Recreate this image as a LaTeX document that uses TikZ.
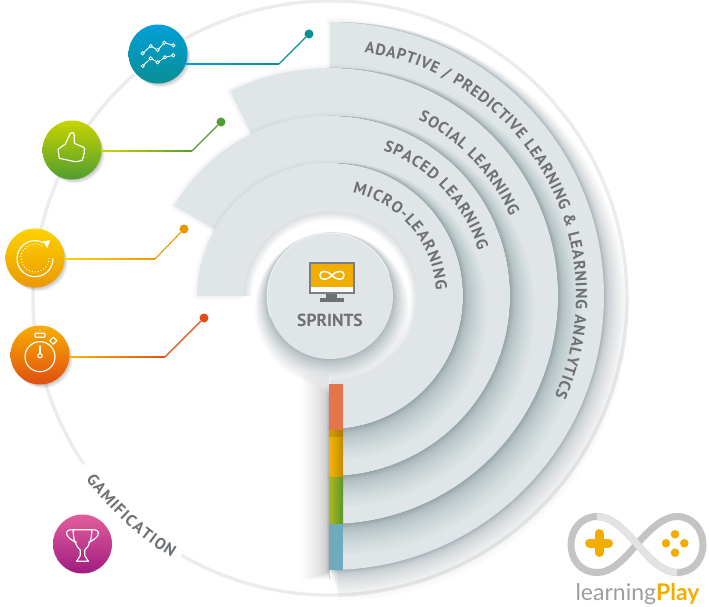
\documentclass[tikz,border=0pt]{standalone}
\usepackage{fontspec}
\setmainfont{PT Sans}
\newfontfamily\logofont{Lato}
\usetikzlibrary{calc,decorations.text}
\definecolor{ringc}{HTML}{E0E5E7}
\definecolor{shc}{HTML}{2E4E58}
\definecolor{txt}{HTML}{6D7174}
\definecolor{arcc}{HTML}{ECECEC}
\definecolor{yel}{HTML}{F2AE00}
\definecolor{a1}{HTML}{009FD8}\definecolor{a2}{HTML}{0A8F95}
\definecolor{b1}{HTML}{C8D400}\definecolor{b2}{HTML}{4F9E30}
\definecolor{c1}{HTML}{FFD200}\definecolor{c2}{HTML}{EA9800}
\definecolor{d1}{HTML}{F9AE00}\definecolor{d2}{HTML}{E04E10}
\definecolor{e1}{HTML}{E25F9C}\definecolor{e2}{HTML}{A01B80}
\definecolor{baro}{HTML}{E4764A}
\definecolor{bargl}{HTML}{B0B81A}
\definecolor{bargr}{HTML}{5A962C}
\definecolor{barb}{HTML}{6EACBD}
\tikzset{
  iconc/.style={circle,minimum size=59pt,inner sep=0pt},
  dotc/.style={circle,minimum size=9pt,inner sep=0pt},
  glyph/.style={draw=white,line width=1.15pt,line join=round,line cap=round},
  ringfill/.style={fill=ringc},
  curved/.style={decorate,decoration={text along path,text align={fit to path},text={#1}}},
  ringlabel/.style={curved={|\bfseries\fontsize{16}{16}\selectfont\color{txt}|#1}},
}
\newcommand\ringpath[3]{($(C)+(#1:#2pt)$) arc[start angle=#1,end angle=-90,radius=#2pt] -- ($(C)+(-90:#3pt)$) arc[start angle=-90,end angle=#1,radius=#3pt] -- cycle}
\newcommand\dropshadow[2]{%
  \begin{scope}
  \clip (329,0) rectangle (709,606);
  \foreach \i in {1,...,24}{%
    \pgfmathsetmacro\tt{(\i/24)^2.4}%
    \pgfmathsetmacro\rr{#2+\tt*15}%
    \pgfmathsetmacro\ddx{\tt*9}%
    \pgfmathsetmacro\ddy{\tt*15}%
    \fill[shc,opacity=.018] ($(C)+(\ddx,\ddy)+(#1:\rr pt)$) arc[start angle=#1,end angle=-90,radius=\rr pt] -- ($(C)+(\ddx,\ddy)$) -- cycle;
  }
  \end{scope}}
\newcommand\ambient[3]{%
  \foreach \i in {1,2,3,4}{%
    \draw[shc,opacity=.012,line width=\i*2pt,line join=round] \ringpath{#1}{#2}{#3};
  }}
\newcommand\iconshadow[2]{%
  \foreach \i in {1,...,8}{\fill[black,opacity=.03] ({#1+\i*.45},{#2+\i*.55}) circle[radius=29pt];}}
\newcommand\connector[5]{%
  \foreach \t in {0,...,9}{%
    \pgfmathtruncatemacro\p{\t*10}%
    \draw[line width=1.1pt,color=#5!\p!#4] ($(#1)!0.1*\t!(#2)$) -- ($(#1)!0.1*\t+0.1!(#2)$);
  }
  \draw[line width=1.1pt,color=#5] (#2) -- (#3);}
\begin{document}
\begin{tikzpicture}[x=1pt,y=-1pt]
\useasboundingbox (0,0) rectangle (709,606);
\fill[white] (0,0) rectangle (709,606);
\coordinate (C) at (330,296);
\coordinate (O) at (330,298);
% outer circle
\draw[arcc,line width=3.4pt] ($(O)+(240:297pt)$) arc[start angle=240,end angle=574,radius=297pt];
% adaptive
\ambient{90}{274}{228}
\dropshadow{90}{274}
\fill[ringfill] \ringpath{90}{274}{228};
% social
\ambient{116}{228}{180}
\dropshadow{116}{228}
\fill[ringfill] \ringpath{116}{228}{180};
% spaced
\ambient{150}{180}{133}
\dropshadow{150}{180}
\fill[ringfill] \ringpath{150}{180}{133};
% micro shadow, well
\ambient{180}{133}{87}
\dropshadow{180}{133}
\fill[white] (C) circle[radius=89pt];
\foreach \i in {1,...,20}{%
  \pgfmathsetmacro\tt{(\i/20)^1.7}%
  \pgfmathsetmacro\ddy{\tt*13}%
  \pgfmathsetmacro\rr{63+\tt*14}%
  \fill[shc,opacity=.024] ($(C)+(\tt*2,\ddy)$) circle[radius=\rr pt];}
\begin{scope}
  \clip ($(C)+(180:89pt)$) arc[start angle=180,end angle=-90,radius=89pt] -- (C) -- cycle;
  \foreach \i in {1,...,8}{\draw[shc,opacity=.018,line width=\i*2pt] ($(C)+(1,3)$) circle[radius=87pt];}
\end{scope}
% bar shadow on white
\foreach \i in {1,...,24}{%
  \pgfmathsetmacro\tt{(\i/24)^2.2}%
  \fill[black,opacity=.011] ({329-\tt*28},{395-\tt*22}) rectangle (329,{572+\tt*8});}
\fill[ringfill] \ringpath{180}{133}{87};
% hub
\node[circle,fill=ringc,minimum size=126pt,inner sep=0pt] (hub) at (C) {};
\draw[white,line width=.7pt,opacity=.85] ($(C)+(200:63pt)$) arc[start angle=200,end angle=20,radius=63pt];
% bar
\fill[baro] (329,384) rectangle (343,430);
\fill[left color=yel!90!yellow,right color=yel!80!black] (329,430) rectangle (343,477);
\fill[black,opacity=.12] (329,430) rectangle (343,437);
\fill[left color=bargl,right color=bargr] (329,477) rectangle (343,524);
\fill[barb] (329,524) rectangle (343,570);
\draw[black!20,line width=.6pt] (329,570) -- (329,579);
% ring labels
\path[ringlabel={ADAPTIVE / PREDICTIVE LEARNING {\&} LEARNING ANALYTICS}] ($(C)+(82:246pt)$) arc[start angle=82,end angle=-24,radius=246pt];
\path[ringlabel={SOCIAL LEARNING}] ($(C)+(63.4:197pt)$) arc[start angle=63.4,end angle=24,radius=197pt];
\path[ringlabel={SPACED LEARNING}] ($(C)+(70:155pt)$) arc[start angle=70,end angle=17,radius=155pt];
\path[ringlabel={MICRO-LEARNING}] ($(C)+(77.7:106pt)$) arc[start angle=77.7,end angle=3,radius=106pt];
\path[ringlabel={GAMIFICATION}] ($(O)+(216.6:304pt)$) arc[start angle=216.6,end angle=238.6,radius=304pt];
% monitor
\node[font=\bfseries\fontsize{17.5}{17.5}\selectfont,text=txt] (sprints) at (330,320) {SPRINTS};
\draw[draw=txt!90!white,fill=white!90!ringc,line width=1.8pt] (310,263) rectangle (354,293);
\fill[yel] (311,264) rectangle (353,286.5);
\fill[txt] (326,294) rectangle (337,298);
\fill[txt] (320,298) rectangle (344,302);
\draw[white,line width=1.5pt] (332,275.3) .. controls (337,270) and (344,270) .. (344,275.3) .. controls (344,280.6) and (337,280.6) .. (332,275.3) .. controls (327,270) and (320,270) .. (320,275.3) .. controls (320,280.6) and (327,280.6) .. (332,275.3) -- cycle;
% icons
\iconshadow{158}{54}
\iconshadow{72}{150}
\iconshadow{35}{258}
\iconshadow{40}{355}
\node[iconc,top color=a1,bottom color=a2] (chart) at (158,54) {};
\node[iconc,top color=b1,bottom color=b2] (thumb) at (72,150) {};
\node[iconc,top color=c1,bottom color=c2] (refresh) at (35,258) {};
\node[iconc,top color=d1,bottom color=d2] (watch) at (40,355) {};
\node[iconc,top color=e1,bottom color=e2] (trophy) at (82.5,544) {};
% connectors
\node[dotc,fill=a2] (d1) at (309,34) {};
\node[dotc,fill=b2] (d2) at (221,122) {};
\node[dotc,fill=c2] (d3) at (184,229) {};
\node[dotc,fill=d2] (d4) at (204,318) {};
\coordinate (e1) at (279,64);
\coordinate (e2) at (192,151);
\coordinate (e3) at (155,259);
\coordinate (e4) at (165,357);
\coordinate (s1) at (185.7,64);
\coordinate (s2) at (101,151);
\coordinate (s3) at (64,259);
\coordinate (s4) at (69,357);
\connector{s1}{e1}{d1}{a1}{a2}
\connector{s2}{e2}{d2}{b1}{b2}
\connector{s3}{e3}{d3}{c1}{c2}
\connector{s4}{e4}{d4}{d1}{d2}
% chart glyph
\begin{scope}[shift={(158,54)}]
  \draw[glyph,line width=.9pt] (-15.3,-.7) -- (-7.3,-8) -- (-.3,-4) -- (6.3,-11.3) -- (15.3,-8.7);
  \draw[glyph,line width=.9pt] (-15.3,12) -- (-7.3,4.3) -- (-.3,8.3) -- (7,3.3) -- (15.3,1.3);
  \foreach \q in {(-15.3,-.7),(-7.3,-8),(-.3,-4),(6.3,-11.3),(15.3,-8.7),(-15.3,12),(-7.3,4.3),(-.3,8.3),(7,3.3),(15.3,1.3)}
    \draw[white,fill=a1!50!a2,line width=.8pt] \q circle[radius=1.6pt];
\end{scope}
% thumb glyph
\begin{scope}[shift={(72,150)}]
  \draw[glyph] (-14,-.7) -- (-6.7,-6) -- (-1.7,-16.7) .. controls (-.8,-18) and (2,-18) .. (2.3,-15) -- (2.3,-6.7) -- (11.7,-2.7) .. controls (13.5,-1.5) and (13,0) .. (12,1) .. controls (13,2) and (12.5,4) .. (11.5,4.5) .. controls (12.3,6) and (11.5,8) .. (10.7,8) .. controls (11,10) and (10,11) .. (8,11) -- (3.3,11.7) -- (-12.7,8.3) -- cycle;
\end{scope}
% refresh glyph
\begin{scope}[shift={(35,258)}]
  \draw[glyph] (7.9,-15.5) arc[start angle=64,end angle=360,radius=18pt];
  \draw[white,line width=1pt,dotted] (7,-12.1) arc[start angle=60,end angle=360,radius=14pt];
  \fill[white] (7.7,-16.7) -- (15,-17.7) -- (12.3,-10) -- cycle;
\end{scope}
% stopwatch glyph
\begin{scope}[shift={(40,355)}]
  \draw[glyph] (0,1.7) circle[radius=15pt];
  \draw[glyph,rounded corners=1pt] (-5,-21.7) rectangle (5,-17.7);
  \draw[glyph,rotate around={45:(13.3,-14.3)}] (10.8,-16.8) rectangle (15.8,-11.8);
  \draw[glyph] (0,-9) -- (0,-1.7);
  \draw[glyph] (0,.7) circle[radius=2.2pt];
\end{scope}
% trophy glyph
\begin{scope}[shift={(82.5,544)}]
  \draw[glyph] (-9.3,-14.3) -- (9.3,-14.3) .. controls (9.3,-5) and (7,2) .. (2.3,6) -- (2.3,11.7) -- (6,17.3) -- (-6,17.3) -- (-2.3,11.7) -- (-2.3,6) .. controls (-7,2) and (-9.3,-5) .. (-9.3,-14.3) -- cycle;
  \draw[glyph] (-9.3,-14) .. controls (-14,-15) and (-17,-13) .. (-15.5,-9) .. controls (-14,-6) and (-10,-3) .. (-6,-1.7);
  \draw[glyph] (9.3,-14) .. controls (14,-15) and (17,-13) .. (15.5,-9) .. controls (14,-6) and (10,-3) .. (6,-1.7);
\end{scope}
% logo
\draw[black!23,line width=7pt,line cap=round,line join=round] (637,544) .. controls (653,526) and (665,516.5) .. (677,516.5) .. controls (693,516.5) and (703,530) .. (703,544.5) .. controls (703,560) and (693,572.5) .. (677,572.5) .. controls (665,572.5) and (653,563) .. (637,544) .. controls (621,526) and (610,516.5) .. (597,516.5) .. controls (581,516.5) and (571,530) .. (571,544.5) .. controls (571,560) and (581,572.5) .. (597,572.5) .. controls (610,572.5) and (621,563) .. (637,544) -- cycle;
\draw[black!11,line width=7pt] (597,516.5) .. controls (610,516.5) and (621,526) .. (637,544) .. controls (653,563) and (665,572.5) .. (677,572.5);
\draw[yel,line width=9pt,line cap=round] (589.5,543) -- (608.5,543);
\draw[yel,line width=9pt,line cap=round] (599,533.5) -- (599,552.5);
\foreach \q in {(675,534.3),(675,552.7),(666,543.3),(684.3,543.3)} \fill[yel] \q circle[radius=4.3pt];
\node[inner sep=0pt,anchor=base] (brand) at (637.5,600) {\logofont\fontsize{23}{23}\selectfont\textcolor{black!38}{learning}\textcolor{yel}{\bfseries Play}};
\end{tikzpicture}
\end{document}
